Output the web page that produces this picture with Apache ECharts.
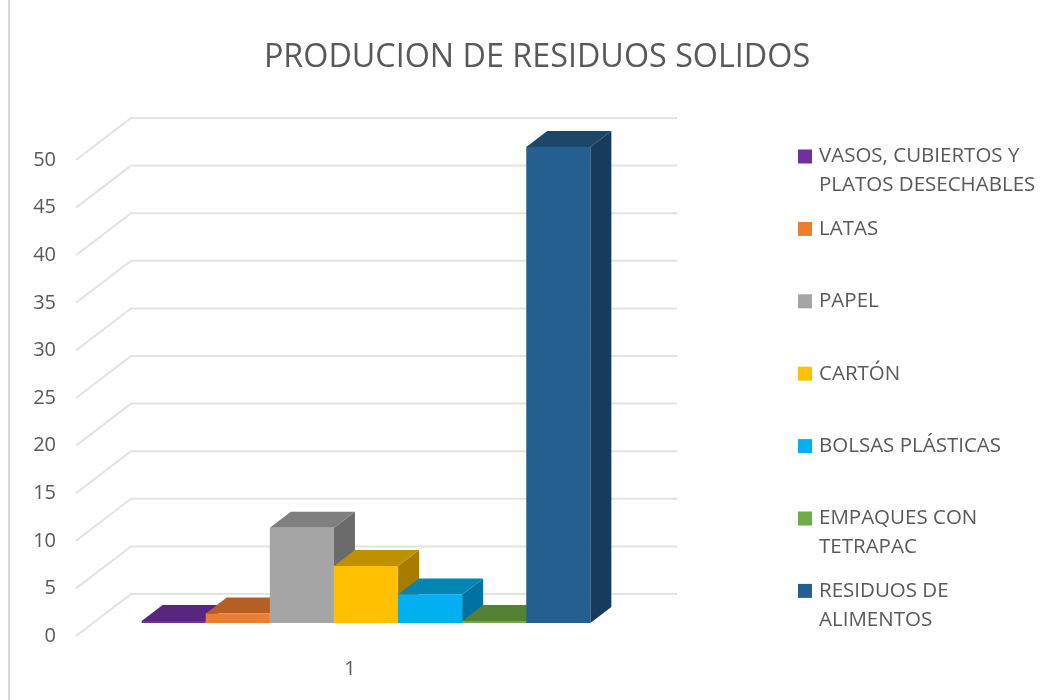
<!DOCTYPE html>
<html>
<head>
    <meta charset="utf-8">
    <title>Residuos solidos</title>
    <style>
        html, body { margin: 0; padding: 0; background: #fff; }
    </style>
</head>
<body>
    <div id="main" style="width: 1045px;height:700px;"></div>

    <script src="https://cdn.jsdelivr.net/npm/echarts@6/dist/echarts.min.js"></script>
    <script type="text/javascript">
        var categories = ['1'];
        var yTicks = [0, 5, 10, 15, 20, 25, 30, 35, 40, 45, 50];
        var names = ['VASOS, CUBIERTOS Y PLATOS DESECHABLES', 'LATAS', 'PAPEL', 'CARTÓN', 'BOLSAS PLÁSTICAS', 'EMPAQUES CON TETRAPAC', 'RESIDUOS DE ALIMENTOS'];
        var values = [0.2, 1, 10, 6, 3, 0.2, 50];
        var legendLines = {
            'VASOS, CUBIERTOS Y PLATOS DESECHABLES': ['VASOS, CUBIERTOS Y', 'PLATOS DESECHABLES'],
            'EMPAQUES CON TETRAPAC': ['EMPAQUES CON', 'TETRAPAC'],
            'RESIDUOS DE ALIMENTOS': ['RESIDUOS DE', 'ALIMENTOS']
        };

        var frontColors = ['#7030A0', '#ED7D31', '#A5A5A5', '#FFC000', '#00B0F0', '#70AD47', '#255E91'];
        var topColors = ['#58267F', '#B65F22', '#7F7F7F', '#BF9000', '#0085B5', '#548235', '#1C4769'];
        var sideColors = ['#4A2069', '#9A5120', '#6B6B6B', '#A67C00', '#0072A0', '#466E2C', '#163B5B'];

        var textColor = '#595959';
        var fontName = '"Open Sans", sans-serif';

        // fake 3d: wall depth, bar depth and how far the bars sit from the front edge
        var wallDx = 55, wallDy = 42;
        var barDx = 21, barDy = 16;
        var floorDx = 17, floorDy = 13;
        var barW = 64.1;

        function renderWall(params, api) {
            var p = api.coord([0, api.value(0)]);
            var left = params.coordSys.x;
            var right = left + params.coordSys.width + wallDx;
            return {
                type: 'polyline',
                shape: { points: [[left, p[1]], [left + wallDx, p[1] - wallDy], [right, p[1] - wallDy]] },
                style: { fill: null, stroke: '#E3E3E3', lineWidth: 2 }
            };
        }

        function renderBar(i) {
            return function (params, api) {
                var base = api.coord([0, 0]);
                var top = api.coord([0, api.value(1)]);
                var x0 = base[0] + floorDx + (i - 3.5) * barW;
                var x1 = x0 + barW;
                var y0 = base[1] - floorDy;
                var y1 = top[1] - floorDy;
                return {
                    type: 'group',
                    children: [
                        {
                            type: 'polygon',
                            shape: { points: [[x1, y0], [x1 + barDx, y0 - barDy], [x1 + barDx, y1 - barDy], [x1, y1]] },
                            style: { fill: sideColors[i] }
                        },
                        {
                            type: 'polygon',
                            shape: { points: [[x0, y1], [x1, y1], [x1 + barDx, y1 - barDy], [x0 + barDx, y1 - barDy]] },
                            style: { fill: topColors[i] }
                        },
                        {
                            type: 'rect',
                            shape: { x: x0, y: y1, width: barW, height: y0 - y1 },
                            style: { fill: frontColors[i] }
                        }
                    ]
                };
            };
        }

        var series = [{
            name: 'pared',
            type: 'custom',
            silent: true,
            z: 1,
            renderItem: renderWall,
            encode: { y: 0 },
            data: yTicks.map(function (t) { return [t]; })
        }];
        for (var i = 0; i < names.length; i++) {
            series.push({
                name: names[i],
                type: 'custom',
                z: 2,
                itemStyle: { color: frontColors[i] },
                renderItem: renderBar(i),
                encode: { x: 0, y: 1 },
                data: [[0, values[i]]]
            });
        }

        var myChart = echarts.init(document.getElementById('main'));
        var option = {
            animation: false,
            backgroundColor: '#fff',
            title: {
                text: 'PRODUCION DE RESIDUOS SOLIDOS',
                left: 532,
                top: 37,
                textAlign: 'center',
                textStyle: { color: textColor, fontFamily: fontName, fontWeight: 'normal', fontSize: 32.3 }
            },
            legend: {
                orient: 'vertical',
                left: 793,
                top: 108,
                icon: 'rect',
                itemWidth: 14,
                itemHeight: 14,
                itemGap: -14.6,
                data: names,
                // blank first and last line keep the marker on the first text line
                formatter: function (name) {
                    var lines = legendLines[name] || [name];
                    return ' \n' + lines[0] + '\n' + (lines[1] || ' ');
                },
                textStyle: {
                    color: textColor,
                    fontFamily: fontName,
                    fontSize: 20.5,
                    lineHeight: 29,
                    padding: [0, 0, 0, 2]
                }
            },
            grid: { left: 76, right: 423, top: 160, bottom: 64 },
            xAxis: {
                type: 'category',
                data: categories,
                axisLine: { show: false },
                axisTick: { show: false },
                axisLabel: { color: textColor, fontFamily: fontName, fontSize: 20, margin: 23, padding: [0, 0, 0, 2] }
            },
            yAxis: {
                type: 'value',
                min: 0,
                max: 50,
                interval: 5,
                axisLine: { show: false },
                axisTick: { show: false },
                splitLine: { show: false },
                axisLabel: { color: textColor, fontFamily: fontName, fontSize: 20, margin: 20, padding: [4, 0, 0, 0] }
            },
            graphic: [{
                type: 'line',
                shape: { x1: 9, y1: 0, x2: 9, y2: 700 },
                style: { stroke: '#D9D9D9', lineWidth: 2 }
            }],
            series: series
        };
        myChart.setOption(option);
    </script>
</body>
</html>
